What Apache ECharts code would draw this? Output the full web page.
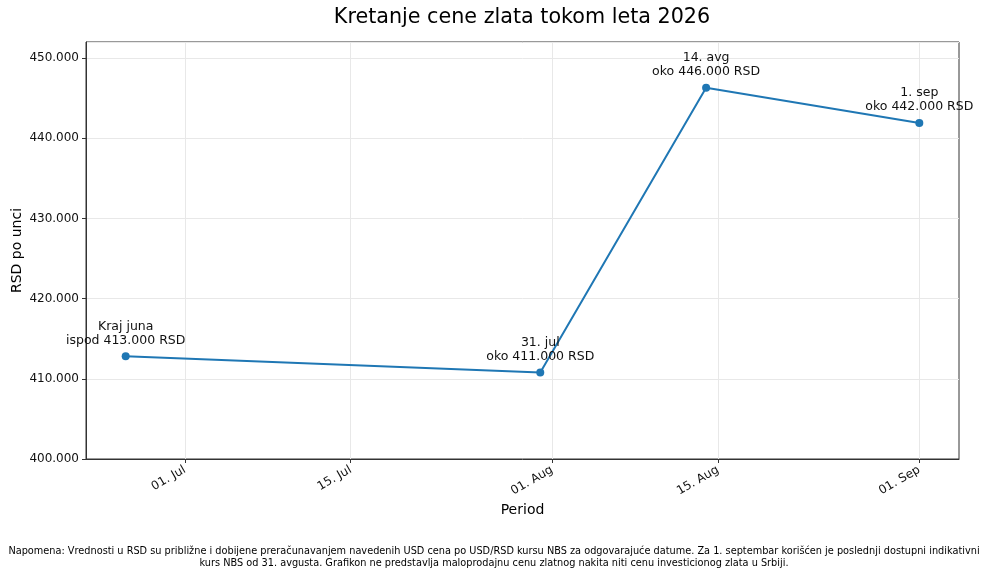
<!DOCTYPE html>
<html style="height: 100%">
<head>
<meta charset="utf-8">
<script src="https://cdn.jsdelivr.net/npm/echarts@6/dist/echarts.min.js"></script>
</head>
<body style="height: 100%; margin: 0; background: #fff">
<div id="container" style="width: 989px; height: 576px"></div>
<script type="text/javascript">
// data
var dates = ['2026-06-26', '2026-07-31', '2026-08-14', '2026-09-01'];
var prices = [412800, 410800, 446300, 441900];
var pointLabels = [
    'Kraj juna\nispod 413.000 RSD',
    '31. jul\noko 411.000 RSD',
    '14. avg\noko 446.000 RSD',
    '1. sep\noko 442.000 RSD'
];
var tickDates = ['2026-07-01', '2026-07-15', '2026-08-01', '2026-08-15', '2026-09-01'];
var monthNames = ['Jan', 'Feb', 'Mar', 'Apr', 'May', 'Jun', 'Jul', 'Aug', 'Sep', 'Oct', 'Nov', 'Dec'];
var titleText = 'Kretanje cene zlata tokom leta 2026';
var note = 'Napomena: Vrednosti u RSD su približne i dobijene preračunavanjem navedenih USD cena po USD/RSD kursu NBS za odgovarajuće datume. Za 1. septembar korišćen je poslednji dostupni indikativni\n' +
    'kurs NBS od 31. avgusta. Grafikon ne predstavlja maloprodajnu cenu zlatnog nakita niti cenu investicionog zlata u Srbiji.';

// dates as plain timestamps on a value axis (uneven custom ticks)
function toTime(s) {
    var p = s.split('-');
    return Date.UTC(+p[0], +p[1] - 1, +p[2]);
}
var first = toTime(dates[0]), last = toTime(dates[dates.length - 1]);
var pad = (last - first) * 0.05;
var tickValues = tickDates.map(toTime);

var seriesData = dates.map(function (d, i) {
    return {value: [toTime(d), prices[i]], label: {formatter: pointLabels[i]}};
});

var font = 'DejaVu Sans';
var dom = document.getElementById('container');
var myChart = echarts.init(dom, null, {renderer: 'canvas'});

var option = {
    backgroundColor: '#fff',
    animation: false,
    textStyle: {fontFamily: font},
    graphic: [{
        type: 'text',
        x: 522, y: 7,
        style: {text: titleText, textAlign: 'center', font: '20.7px "DejaVu Sans"', fill: '#000'}
    }, {
        type: 'text',
        x: 494, y: 545,
        style: {text: note, textAlign: 'center', font: '9.75px "DejaVu Sans"', lineHeight: 12, fill: '#000'}
    }],
    grid: {
        left: 86, right: 30, top: 42, bottom: 117,
        outerBoundsMode: 'none',
        show: true, borderColor: '#333', borderWidth: 1, containLabel: false
    },
    xAxis: {
        type: 'value',
        min: first - pad,
        max: last + pad,
        name: 'Period',
        nameLocation: 'middle',
        nameGap: 44,
        nameMoveOverlap: false,
        nameTextStyle: {fontFamily: font, fontSize: 14, color: '#000'},
        axisLine: {lineStyle: {color: '#333'}},
        axisTick: {show: true, length: 4, customValues: tickValues, lineStyle: {color: '#333'}},
        axisLabel: {
            customValues: tickValues,
            rotate: 30,
            fontFamily: font,
            fontSize: 12,
            color: '#111',
            margin: 10,
            formatter: function (v) {
                var d = new Date(v);
                var dd = d.getUTCDate();
                return (dd < 10 ? '0' + dd : dd) + '. ' + monthNames[d.getUTCMonth()];
            }
        },
        splitLine: {show: true, lineStyle: {color: '#e8e8e8', width: 1}}
    },
    yAxis: {
        type: 'value',
        min: 400000,
        max: 452000,
        interval: 10000,
        name: 'RSD po unci',
        nameLocation: 'middle',
        nameGap: 62,
        nameMoveOverlap: false,
        nameTextStyle: {fontFamily: font, fontSize: 14, color: '#000'},
        axisLine: {show: true, lineStyle: {color: '#333'}},
        axisTick: {show: true, length: 4, lineStyle: {color: '#333'}},
        axisLabel: {
            fontFamily: font,
            fontSize: 12,
            color: '#111',
            margin: 7,
            showMaxLabel: false,
            formatter: function (v) {
                return String(v).replace(/\B(?=(\d{3})+(?!\d))/g, '.');
            }
        },
        splitLine: {show: true, lineStyle: {color: '#e8e8e8', width: 1}}
    },
    series: [{
        type: 'line',
        data: seriesData,
        symbol: 'circle',
        symbolSize: 8,
        clip: false,
        lineStyle: {color: '#1f77b4', width: 2},
        itemStyle: {color: '#1f77b4'},
        label: {
            show: true,
            position: 'top',
            distance: 5,
            fontFamily: font,
            fontSize: 12.5,
            lineHeight: 14,
            color: '#111',
            align: 'center'
        }
    }]
};
myChart.setOption(option);
</script>
</body>
</html>
